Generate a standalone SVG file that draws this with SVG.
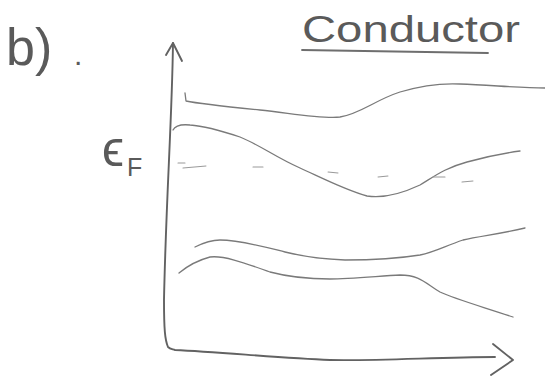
<svg xmlns="http://www.w3.org/2000/svg" width="545" height="376" viewBox="0 0 545 376">
<style>
.pen{fill:none;stroke:#6e6e6e;stroke-linecap:round;stroke-linejoin:round}
.ax{stroke-width:1.9;stroke:#626262}
.band{stroke-width:1.3;stroke:#7a7a7a}
.dash{stroke-width:1.1;stroke:#9a9a9a}
.txt{font-family:"Liberation Sans","DejaVu Sans",sans-serif;fill:#5a5a5a}
</style>
<rect width="545" height="376" fill="#ffffff"/>
<g id="label-b">
<text class="txt" x="6" y="65" font-size="52">b)<tspan x="74" font-size="30">.</tspan></text>
</g>
<g id="title">
<text class="txt" x="302" y="42" font-size="36" textLength="218" lengthAdjust="spacingAndGlyphs">Conductor</text>
<path class="pen" d="M302,50 C360,51 430,52 488,53" stroke-width="1.8"/>
</g>
<g id="fermi-label">
<text class="txt" x="102" y="166" font-family="DejaVu Sans, sans-serif" font-size="50">ϵ<tspan x="127" y="176" font-size="25">F</tspan></text>
</g>
<g id="axes">
<path class="pen ax" d="M173,43 C172,120 166,200 164,300 C164,330 165,340 168,347 C170,349 172,349 175,350 C220,352 280,358 330,360 C380,361 440,357 495,357"/>
<path class="pen ax" d="M166,55 L173,43 L182,61"/>
<path class="pen ax" d="M493,344 L513,360 L491,375"/>
</g>
<g id="bands">
<path class="pen band" d="M185,93 L186,101 C200,104 230,107 260,110 C290,113 320,119 340,117 C360,114 375,100 400,92 C420,86 440,83 460,84 C490,85 520,88 545,88"/>
<path class="pen band" d="M173,130 C175,126 180,124 190,125 C205,126 225,132 240,137 C260,145 275,157 300,168 C320,177 345,190 367,196 C385,199 405,192 420,185 C435,176 445,168 467,162 C485,157 505,153 520,151"/>
<path class="pen band" d="M195,247 C205,242 212,240 220,240 C240,240 265,247 285,252 C305,257 320,259 345,260 C370,260 395,259 420,255 C435,252 445,246 463,240 C480,236 500,234 525,228"/>
<path class="pen band" d="M179,273 C185,268 195,261 210,257 C225,255 250,265 270,272 C285,276 305,279 330,279 C350,279 380,276 400,275 C420,275 425,283 440,292 C455,299 480,306 513,317"/>
</g>
<g id="fermi-level">
<path class="pen dash" d="M178,163 L185,163 M183,168 L206,166 M253,167 L263,167 M328,172 L338,173 M378,177 L388,176 M433,177 L445,177 M462,182 L473,181"/>
</g>
</svg>
